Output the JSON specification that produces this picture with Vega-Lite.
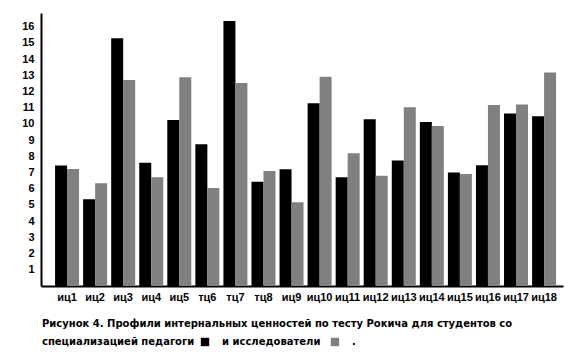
{
  "$schema": "https://vega.github.io/schema/vega-lite/v6.json",
  "autosize": {"type": "none"},
  "padding": {"left": 41, "top": 13, "right": 23, "bottom": 73},
  "width": 522,
  "height": 273,
  "background": "#ffffff",
  "config": {
    "font": "Liberation Sans",
    "view": {"stroke": null},
    "axis": {"labelFont": "Liberation Sans", "labelFontWeight": "bold", "labelColor": "#000000", "domainColor": "#000000", "domainWidth": 2, "ticks": false, "grid": false}
  },
  "title": {
    "text": "Рисунок 4. Профили интернальных ценностей по тесту Рокича для студентов со",
    "orient": "bottom",
    "anchor": "start",
    "frame": "group",
    "offset": 0,
    "dy": -28,
    "font": "DejaVu Sans",
    "fontSize": 10,
    "fontWeight": "bold",
    "color": "#000000",
    "dx": 1
  },
  "data": {
    "values": [
      {"cat": "иц1", "group": "педагоги", "value": 7.43},
      {"cat": "иц1", "group": "исследователи", "value": 7.22},
      {"cat": "иц2", "group": "педагоги", "value": 5.35},
      {"cat": "иц2", "group": "исследователи", "value": 6.34},
      {"cat": "иц3", "group": "педагоги", "value": 15.29},
      {"cat": "иц3", "group": "исследователи", "value": 12.72},
      {"cat": "иц4", "group": "педагоги", "value": 7.61},
      {"cat": "иц4", "group": "исследователи", "value": 6.71},
      {"cat": "иц5", "group": "педагоги", "value": 10.25},
      {"cat": "иц5", "group": "исследователи", "value": 12.88},
      {"cat": "тц6", "group": "педагоги", "value": 8.75},
      {"cat": "тц6", "group": "исследователи", "value": 6.05},
      {"cat": "тц7", "group": "педагоги", "value": 16.36},
      {"cat": "тц7", "group": "исследователи", "value": 12.53},
      {"cat": "тц8", "group": "педагоги", "value": 6.44},
      {"cat": "тц8", "group": "исследователи", "value": 7.1},
      {"cat": "иц9", "group": "педагоги", "value": 7.2},
      {"cat": "иц9", "group": "исследователи", "value": 5.17},
      {"cat": "иц10", "group": "педагоги", "value": 11.28},
      {"cat": "иц10", "group": "исследователи", "value": 12.92},
      {"cat": "иц11", "group": "педагоги", "value": 6.71},
      {"cat": "иц11", "group": "исследователи", "value": 8.19},
      {"cat": "иц12", "group": "педагоги", "value": 10.29},
      {"cat": "иц12", "group": "исследователи", "value": 6.81},
      {"cat": "иц13", "group": "педагоги", "value": 7.74},
      {"cat": "иц13", "group": "исследователи", "value": 11.03},
      {"cat": "иц14", "group": "педагоги", "value": 10.12},
      {"cat": "иц14", "group": "исследователи", "value": 9.88},
      {"cat": "иц15", "group": "педагоги", "value": 7.0},
      {"cat": "иц15", "group": "исследователи", "value": 6.91},
      {"cat": "иц16", "group": "педагоги", "value": 7.45},
      {"cat": "иц16", "group": "исследователи", "value": 11.17},
      {"cat": "иц17", "group": "педагоги", "value": 10.64},
      {"cat": "иц17", "group": "исследователи", "value": 11.21},
      {"cat": "иц18", "group": "педагоги", "value": 10.47},
      {"cat": "иц18", "group": "исследователи", "value": 13.17}
    ]
  },
  "mark": {"type": "bar"},
  "encoding": {
    "x": {
      "field": "cat",
      "type": "nominal",
      "sort": null,
      "scale": {"paddingInner": 0.145, "paddingOuter": 0.374, "align": 0.67},
      "axis": {"title": null, "labelAngle": 0, "labelFontSize": 11, "labelPadding": 5, "labelOverlap": false}
    },
    "xOffset": {
      "field": "group",
      "type": "nominal",
      "scale": {"domain": ["педагоги", "исследователи"], "paddingInner": 0, "paddingOuter": 0}
    },
    "y": {
      "field": "value",
      "type": "quantitative",
      "scale": {"domain": [0, 16.85], "nice": false},
      "axis": {"title": null, "values": [1, 2, 3, 4, 5, 6, 7, 8, 9, 10, 11, 12, 13, 14, 15, 16], "labelFontSize": 11, "labelPadding": 7}
    },
    "color": {
      "field": "group",
      "type": "nominal",
      "scale": {"domain": ["педагоги", "исследователи"], "range": ["#000000", "#808080"]},
      "legend": {
        "orient": "none",
        "legendX": 1,
        "legendY": 324,
        "direction": "horizontal",
        "title": "специализацией педагоги",
        "titleOrient": "left",
        "titleFont": "DejaVu Sans",
        "titleFontSize": 10,
        "titleFontWeight": "bold",
        "titleColor": "#000000",
        "titlePadding": 5,
        "labelExpr": "datum.label == 'педагоги' ? 'и исследователи' : '.'",
        "labelFont": "DejaVu Sans",
        "labelFontSize": 10,
        "labelFontWeight": "bold",
        "labelColor": "#000000",
        "labelOffset": 12,
        "columnPadding": 9,
        "symbolType": "square",
        "symbolSize": 70,
        "symbolStrokeWidth": 0,
        "symbolOpacity": 1
      }
    }
  }
}
